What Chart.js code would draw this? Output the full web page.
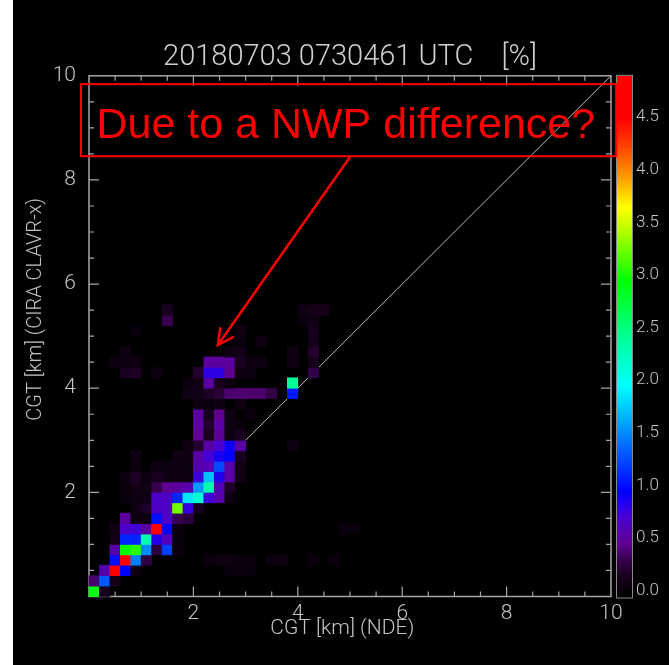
<!DOCTYPE html>
<html><head><meta charset="utf-8">
<script src="https://cdn.jsdelivr.net/npm/chart.js@4.4.1/dist/chart.umd.min.js"></script>
<style>
html,body{margin:0;padding:0;background:#fff;width:669px;height:665px;overflow:hidden;}
#wrap{position:absolute;left:13px;top:0;width:656px;height:665px;background:#000;}
canvas{display:block;}
</style></head><body>
<div id="wrap"><canvas id="c" width="656" height="665"></canvas></div>
<script>
// ---- data: 2-D histogram of cloud-top heights, 0.2 km bins, values in % ----
const binKm = 0.2;
// lower edge (km) of each CIRA CLAVR-x row
const ciraRows = [0.0,0.2,0.4,0.6,0.8,1.0,1.2,1.4,1.6,1.8,2.0,2.2,2.4,2.6,2.8,3.0,3.2,3.4,3.6,3.8,4.0,4.2,4.4,4.6,4.8,5.0,5.2,5.4];
// lower edges (km) of the NDE columns that hold data, per row
const ndeByRow = [
  [0.0,0.2],
  [0.0,0.2,0.4],
  [0.2,0.4,0.6,0.8,2.6,2.8,3.0],
  [0.4,0.6,0.8,1.0,2.2,2.4,2.6,2.8,3.0,3.4,3.6,4.2,4.6],
  [0.4,0.6,0.8,1.0,1.2,1.4,1.6],
  [0.4,0.6,0.8,1.0,1.2,1.4,1.6],
  [0.4,0.6,0.8,1.0,1.2,1.4,1.6,4.8,5.0],
  [0.6,0.8,1.0,1.2,1.4,1.6,1.8],
  [0.8,1.0,1.2,1.4,1.6,1.8,2.0],
  [0.6,0.8,1.0,1.2,1.4,1.6,1.8,2.0,2.2,2.4,2.6],
  [0.6,0.8,1.0,1.2,1.4,1.6,1.8,2.0,2.2,2.4,2.6],
  [0.6,0.8,1.0,1.2,1.4,1.6,1.8,2.0,2.2,2.4,2.6,2.8],
  [0.8,1.2,1.4,1.6,1.8,2.0,2.2,2.4,2.6,2.8],
  [0.8,1.6,1.8,2.0,2.2,2.4,2.6,2.8],
  [1.8,2.0,2.2,2.4,2.6,2.8,3.8],
  [2.0,2.2,2.4,2.6,2.8],
  [2.0,2.2,2.4,2.6,2.8],
  [2.0,2.2,2.4,2.6,3.0],
  [2.0,2.2,2.4,2.8],
  [1.8,2.0,2.2,2.4,2.6,2.8,3.0,3.2,3.4,3.8],
  [1.8,2.0,2.2,2.4,2.6,3.8],
  [0.6,0.8,1.2,2.0,2.2,2.4,2.6,2.8,3.0,4.2],
  [0.4,0.6,0.8,2.2,2.4,2.6,2.8,3.0,3.2,3.8,4.2],
  [0.6,2.6,2.8,3.8,4.2],
  [2.8,3.2,4.2],
  [0.8,2.8,4.2],
  [1.4,4.0,4.2],
  [1.4,4.0,4.2,4.4]
];
// percentage in each of those cells
const pctByRow = [
  [2.95,0.2],
  [0.42,1.35,0.15],
  [0.62,4.8,1.0,0.1,0.06,0.07,0.06],
  [1.05,4.7,1.5,0.3,0.07,0.09,0.1,0.08,0.07,0.08,0.09,0.07,0.07],
  [0.6,3.0,3.1,1.55,0.3,1.25,0.08],
  [0.15,1.15,1.15,2.35,0.88,0.65,0.06],
  [0.12,0.72,0.78,0.55,4.8,1.02,0.08,0.08,0.06],
  [0.55,0.12,0.1,1.05,0.7,0.35,0.3],
  [0.12,0.22,0.7,0.7,3.3,0.82,0.18],
  [0.06,0.1,0.12,0.72,0.7,1.15,1.9,2.2,0.78,0.6,0.12],
  [0.08,0.15,0.12,0.35,0.5,0.55,0.6,1.6,2.35,0.65,0.22],
  [0.1,0.22,0.1,0.2,0.12,0.12,0.12,0.8,1.75,0.9,0.58,0.12],
  [0.1,0.12,0.1,0.12,0.1,0.6,0.65,1.3,0.6,0.12],
  [0.12,0.12,0.12,0.58,0.78,0.92,1.0,0.2],
  [0.12,0.25,0.58,0.75,0.95,0.58,0.1],
  [0.5,0.2,0.52,0.1,0.2],
  [0.55,0.25,0.58,0.1,0.08],
  [0.55,0.18,0.5,0.1,0.08],
  [0.1,0.08,0.12,0.12],
  [0.12,0.15,0.22,0.28,0.42,0.42,0.42,0.42,0.32,1.1],
  [0.08,0.12,0.55,0.18,0.1,2.45],
  [0.2,0.22,0.1,0.25,0.85,0.85,0.5,0.12,0.1,0.32],
  [0.1,0.1,0.12,0.55,0.55,0.55,0.2,0.12,0.1,0.12,0.16],
  [0.1,0.12,0.15,0.12,0.25],
  [0.08,0.12,0.16],
  [0.08,0.12,0.18],
  [0.35,0.08,0.12],
  [0.2,0.12,0.16,0.16]
];
const oneToOne = [0, 10];               // 1:1 reference line (km)
const axisTicks = [2, 4, 6, 8, 10];
const colorbarMax = 4.95;
const colorbarTicks = [0.0,0.5,1.0,1.5,2.0,2.5,3.0,3.5,4.0,4.5];
const titleText = '20180703 0730461 UTC    [%]';
const noteText = 'Due to a NWP difference?';

// ---- colour table (black → purple → blue → cyan → green → yellow → red) ----
const stops = [
  [0.0,0,0,0],[0.2,26,0,32],[0.35,55,0,78],[0.5,95,0,145],[0.75,75,0,210],[1.0,0,0,255],
  [1.5,0,125,255],[2.0,0,255,255],[2.5,0,255,140],[3.0,0,255,0],[3.5,190,255,0],
  [3.7,255,255,0],[4.0,255,150,0],[4.3,255,60,0],[4.55,255,0,0],[5.0,255,0,0]
];
function cmap(v){
  if (v <= stops[0][0]) return 'rgb(0,0,0)';
  for (let i = 1; i < stops.length; i++){
    if (v <= stops[i][0]){
      const a = stops[i-1], b = stops[i], t = (v - a[0])/(b[0]-a[0]);
      const c = [1,2,3].map(k => Math.round(a[k] + (b[k]-a[k])*t));
      return `rgb(${c[0]},${c[1]},${c[2]})`;
    }
  }
  return 'rgb(255,0,0)';
}

const cellPts = [], cellCols = [];
ciraRows.forEach((y0, r) => {
  ndeByRow[r].forEach((x0, k) => {
    cellPts.push({x: x0 + binKm/2, y: y0 + binKm/2});
    cellCols.push(cmap(pctByRow[r][k]));
  });
});

const GRAY = '#a6a6a6';
const TXT = '#c4c4c4';
const FONT = 'Roboto';

const framePlugin = {
  id: 'frame',
  beforeDatasetsDraw(chart){
    const {ctx, chartArea: a, scales: {x, y, cb}} = chart;
    ctx.save();
    ctx.strokeStyle = GRAY; ctx.lineWidth = 1.5;
    ctx.strokeRect(a.left, a.top, a.right - a.left, a.bottom - a.top);
    ctx.lineWidth = 1.2;
    ctx.beginPath();
    for (let v = 0.5; v < 10; v += 0.5){
      const len = (Math.abs(v % 2) < 1e-6) ? 10 : 5;
      const px = x.getPixelForValue(v), py = y.getPixelForValue(v);
      ctx.moveTo(px, a.bottom); ctx.lineTo(px, a.bottom - len);
      ctx.moveTo(px, a.top); ctx.lineTo(px, a.top + len);
      ctx.moveTo(a.left, py); ctx.lineTo(a.left + len, py);
      ctx.moveTo(a.right, py); ctx.lineTo(a.right - len, py);
    }
    ctx.stroke();
    // colour bar
    const y0 = cb.getPixelForValue(0), y1 = cb.getPixelForValue(colorbarMax);
    const bx = cb.left + 6, bw = 15;
    const g = ctx.createLinearGradient(0, y0, 0, y1);
    stops.forEach(s => { if (s[0] <= colorbarMax) g.addColorStop(s[0]/colorbarMax, cmap(s[0])); });
    g.addColorStop(1, cmap(colorbarMax));
    ctx.fillStyle = g;
    ctx.fillRect(bx, y1, bw, y0 - y1 + 1);
    ctx.strokeStyle = '#8a8a8a'; ctx.lineWidth = 1;
    ctx.strokeRect(bx - 0.5, y1 - 0.5, bw + 1, y0 - y1 + 2);
    ctx.restore();
  }
};

const notePlugin = {
  id: 'note',
  afterDatasetsDraw(chart){
    const {ctx, scales: {x, y}} = chart;
    ctx.save();
    ctx.strokeStyle = '#ff0000'; ctx.fillStyle = '#ff0000';
    ctx.lineWidth = 2;
    const L = x.getPixelForValue(-0.153), R = x.getPixelForValue(10.1);
    const T = y.getPixelForValue(9.84), B = y.getPixelForValue(8.455);
    ctx.strokeRect(L, T, R - L, B - T);
    ctx.font = '43px "Liberation Sans", Arial, sans-serif';
    ctx.textAlign = 'center'; ctx.textBaseline = 'alphabetic';
    ctx.fillText(noteText, x.getPixelForValue(4.92), y.getPixelForValue(8.8));
    // arrow
    const sx = x.getPixelForValue(5.0), sy = y.getPixelForValue(8.44);
    const tx = x.getPixelForValue(2.47), ty = y.getPixelForValue(4.83);
    ctx.lineWidth = 2.5; ctx.lineCap = 'round';
    ctx.beginPath(); ctx.moveTo(sx, sy); ctx.lineTo(tx, ty); ctx.stroke();
    const ang = Math.atan2(sy - ty, sx - tx), hl = 17, spread = 0.48;
    ctx.beginPath();
    ctx.moveTo(tx + hl*Math.cos(ang + spread), ty + hl*Math.sin(ang + spread));
    ctx.lineTo(tx, ty);
    ctx.lineTo(tx + hl*Math.cos(ang - spread), ty + hl*Math.sin(ang - spread));
    ctx.stroke();
    ctx.restore();
  }
};

function cellRadius(c){
  const xs = c.chart.scales.x;
  const w = Math.abs(xs.getPixelForValue(binKm) - xs.getPixelForValue(0));
  return (w + 0.7) / (2 * Math.SQRT1_2);
}

new Chart(document.getElementById('c'), {
  type: 'scatter',
  data: {
    datasets: [
      { label: 'pct', data: cellPts, order: 1,
        pointStyle: 'rect', backgroundColor: cellCols, borderWidth: 0,
        pointBorderWidth: 0, pointRadius: cellRadius, pointHoverRadius: cellRadius, clip: false },
      { label: '1:1', type: 'line', order: 2,
        data: oneToOne.map(v => ({x: v, y: v})),
        borderColor: '#b8b8b8', borderWidth: 1, pointRadius: 0, fill: false }
    ]
  },
  options: {
    responsive: false, animation: false, events: [],
    layout: { padding: 0 },
    plugins: {
      legend: { display: false }, tooltip: { enabled: false },
      title: { display: true, text: titleText, fullSize: false, color: '#cfcfcf',
               font: { family: FONT, size: 29, weight: '300', lineHeight: 1.2 },
               padding: { top: 40, bottom: 1 } }
    },
    scales: {
      x: { type: 'linear', position: 'bottom', min: 0, max: 10,
           afterFit: s => { s.height = 68.5; },
           grid: { display: false }, border: { display: false },
           afterBuildTicks: s => { s.ticks = axisTicks.map(v => ({value: v})); },
           ticks: { autoSkip: false, maxRotation: 0, color: TXT, padding: -3,
                    font: { family: FONT, size: 21, weight: '300' } },
           title: { display: true, text: 'CGT [km] (NDE)   ', color: TXT,
                    font: { family: FONT, size: 21, weight: '300', lineHeight: 1.2 },
                    padding: { top: 0, bottom: 24 } } },
      y: { type: 'linear', position: 'left', min: 0, max: 10,
           afterFit: s => { s.width = 76; },
           grid: { display: false }, border: { display: false },
           afterBuildTicks: s => { s.ticks = axisTicks.map(v => ({value: v})); },
           ticks: { autoSkip: false, color: TXT, padding: 5,
                    font: { family: FONT, size: 21, weight: '300' } },
           title: { display: true, text: '           CGT [km] (CIRA CLAVR-x)', color: TXT,
                    font: { family: FONT, size: 20, weight: '300', lineHeight: 1.2 },
                    padding: { top: 11, bottom: 0 } } },
      cb: { type: 'linear', position: 'right', min: 0, max: colorbarMax,
            afterFit: s => { s.width = 58; },
            grid: { display: false }, border: { display: false },
            afterBuildTicks: s => { s.ticks = colorbarTicks.map(v => ({value: v})); },
            ticks: { autoSkip: false, color: TXT, padding: 17, labelOffset: -6,
                     callback: v => Number(v).toFixed(1),
                     font: { family: FONT, size: 17, weight: '300' } } }
    }
  },
  plugins: [framePlugin, notePlugin]
});
</script>
</body></html>
